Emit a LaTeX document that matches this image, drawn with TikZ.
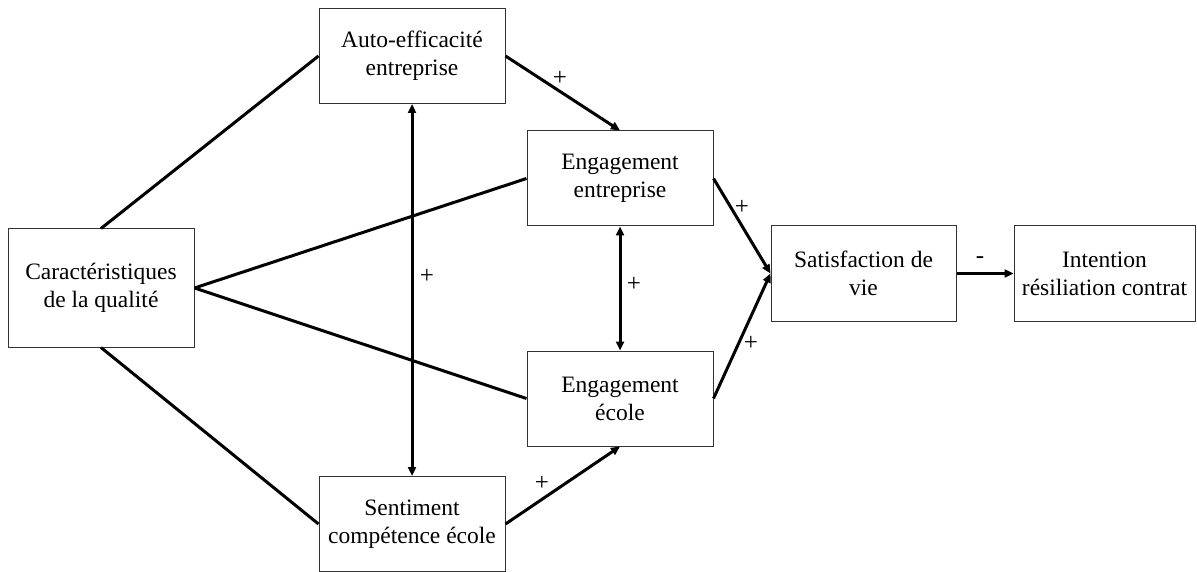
\documentclass[tikz,border=0pt]{standalone}
\usepackage{fontspec}
\setmainfont{Liberation Serif}
\usetikzlibrary{arrows.meta}
\begin{document}
\begin{tikzpicture}[x=1pt,y=-1pt,
  box/.style={draw=black!80,line width=1pt,align=center,inner sep=0pt,
    minimum width=186pt,minimum height=95pt,font=\fontsize{23.5}{28}\selectfont},
  link/.style={line width=3pt},
  arr/.style={link,-{Triangle[length=9pt,width=8pt]}},
  darr/.style={link,{Triangle[length=9pt,width=8pt]}-{Triangle[length=9pt,width=8pt]}},
  sign/.style={inner sep=0pt,font=\fontsize{25}{28}\selectfont}]
\path[use as bounding box] (0,0) rectangle (1197,572);

% variables
\node[box,minimum height=118pt] (car) at (101,288) {Caractéristiques\\de la qualité};
\node[box] (auto) at (412,56) {Auto-efficacité\\entreprise};
\node[box] (sent) at (412,524) {Sentiment\\compétence école};
\node[box] (eent) at (620,178.5) {Engagement\\entreprise};
\node[box] (eeco) at (620,398.5) {Engagement\\école};
\node[box,minimum width=185pt] (sat) at (863.5,273.5) {Satisfaction de\\vie};
\node[box,minimum width=181pt] (inten) at (1104.5,273.5) {Intention\\résiliation contrat};

% undirected links from the quality characteristics
\draw[link] (car.north) -- (auto.west);
\draw[link] (car.south) -- (sent.west);
\draw[link] (car.east) -- (eent.west);
\draw[link] (car.east) -- (eeco.west);

% directed paths
\draw[arr] (auto.east) -- (eent.north);
\draw[arr] (sent.east) -- (eeco.south);
\draw[darr] (auto.south) -- (sent.north);
\draw[darr] (eent.south) -- (eeco.north);
\draw[arr] (eent.east) -- (sat.west);
\draw[arr] (eeco.east) -- (sat.west);
\draw[arr] (sat.east) -- (inten.west);

% signs
\node[sign] (s1) at (560,78) {+};
\node[sign] (s2) at (542,483) {+};
\node[sign] (s3) at (427,276) {+};
\node[sign] (s4) at (634,284) {+};
\node[sign] (s5) at (742,207) {+};
\node[sign] (s6) at (751,343) {+};
\node[sign] (s7) at (980,260) {-};
\end{tikzpicture}
\end{document}
